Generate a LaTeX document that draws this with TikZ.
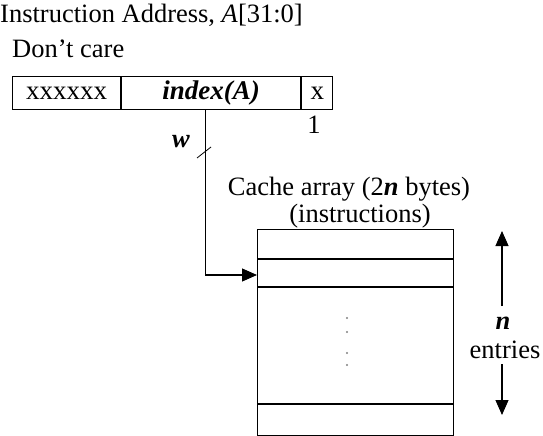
\documentclass[tikz,border=0pt]{standalone}
\usepackage{fontspec}
\setmainfont{Liberation Serif}
\usetikzlibrary{arrows.meta}
\begin{document}
\begin{tikzpicture}[x=1pt,y=-1pt,
  txt/.style={inner sep=0pt, font=\fontsize{26.5}{31}\selectfont},
  cell/.style={draw, line width=1.1pt, minimum height=33pt, inner sep=0pt, font=\fontsize{27}{31}\selectfont},
  wire/.style={line width=1.1pt},
  tip/.style={-{Triangle[length=15pt,width=13pt]}}]
\useasboundingbox (0,0) rectangle (543,436);
% title texts
\node[txt, anchor=west] (title) at (0,15) {Instruction Address, \textit{A}[31:0]};
\node[txt, anchor=west] (dc) at (12,49) {Don’t care};
% address register
\node[cell, minimum width=108pt, anchor=north west] (xs) at (12,76) {xxxxxx};
\node[cell, minimum width=179pt, anchor=north west] (idx) at (xs.north east) {\textbf{\textit{index(A)}}};
\node[cell, minimum width=31pt, anchor=north west] (lx) at (idx.north east) {x};
\node[txt] (one) at (314,125) {1};
% cache array
\node[draw, line width=1.1pt, minimum width=196pt, minimum height=206pt, inner sep=0pt, anchor=north west] (cache) at (257,229) {};
\draw[wire] (257,259) -- (453,259);
\draw[wire] (257,287) -- (453,287);
\draw[wire] (257,404) -- (453,404);
\foreach \yy in {318,332,353,365} \fill[gray] (347,\yy) circle (1.2pt);
\node[txt] (ctitle) at (349,189) {Cache array (2\textbf{\textit{n}} bytes)};
\node[txt] (cinst) at (360,216) {(instructions)};
% index wire
\coordinate (tgt) at (257,275);
\draw[wire, tip] (idx.south) ++(-6pt,0) coordinate (src) |- (tgt);
\draw[line width=0.8pt] (197,158) -- (211,147);
\node[txt] (w) at (181,142) {\textbf{\textit{w}}};
% n entries
\node[txt] (n) at (503,323) {\textbf{\textit{n}}};
\node[txt] (ent) at (505,350) {entries};
\coordinate (top) at (502,231);
\coordinate (bot) at (502,415);
\draw[wire, tip] (502,306) -- (top);
\draw[wire, tip] (502,364) -- (bot);
\end{tikzpicture}
\end{document}
